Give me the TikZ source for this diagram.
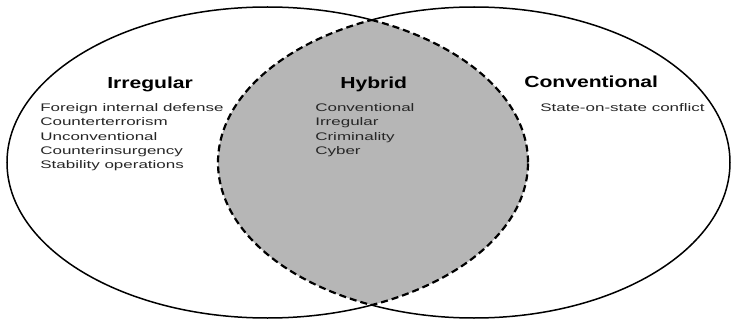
\documentclass[tikz,border=0pt]{standalone}
\usepackage{fontspec}
\setmainfont{Liberation Sans}
\definecolor{hybridgray}{RGB}{182,182,182}
\tikzset{
  head/.style={font=\fontsize{16}{19}\selectfont\bfseries, xscale=1.32, anchor=base west, inner sep=0pt},
  item/.style={font=\fontsize{11}{14}\selectfont, xscale=1.545, anchor=base west, inner sep=0pt, text=black!85},
  outline/.style={line width=1.5pt},
  hybridline/.style={line width=2.2pt, dash pattern=on 7pt off 4pt},
}
\begin{document}
\begin{tikzpicture}[x=1pt,y=-1pt]
\useasboundingbox (0,0) rectangle (732,321);
% intersection fill
\begin{scope}
  \clip (267.5,162.5) ellipse [x radius=260.5pt, y radius=155.5pt];
  \fill[hybridgray] (474,162.5) ellipse [x radius=256pt, y radius=155.5pt];
\end{scope}
% dashed boundary of the hybrid region
\begin{scope}
  \clip (474,162.5) ellipse [x radius=256pt, y radius=155.5pt];
  \draw[hybridline] (267.5,162.5) ellipse [x radius=260.5pt, y radius=155.5pt];
\end{scope}
\begin{scope}
  \clip (267.5,162.5) ellipse [x radius=260.5pt, y radius=155.5pt];
  \draw[hybridline] (474,162.5) ellipse [x radius=256pt, y radius=155.5pt];
\end{scope}
% solid outer arcs
\begin{scope}[even odd rule]
  \clip (-20,-20) rectangle (760,350) (474,162.5) ellipse [x radius=256pt, y radius=155.5pt];
  \draw[outline] (267.5,162.5) ellipse [x radius=260.5pt, y radius=155.5pt];
\end{scope}
\begin{scope}[even odd rule]
  \clip (-20,-20) rectangle (760,350) (267.5,162.5) ellipse [x radius=260.5pt, y radius=155.5pt];
  \draw[outline] (474,162.5) ellipse [x radius=256pt, y radius=155.5pt];
\end{scope}
% texts
\node[head] (irrh) at (107,89) {Irregular};
\foreach \t [count=\i] in {Foreign internal defense, Counterterrorism, Unconventional, Counterinsurgency, Stability operations}
  \node[item] (irr\i) at (40,{98+14*\i}) {\t};
\node[head] (hybh) at (340,89) {Hybrid};
\foreach \t [count=\i] in {Conventional, Irregular, Criminality, Cyber}
  \node[item] (hyb\i) at (315,{98+14*\i}) {\t};
\node[head] (convh) at (524,88) {Conventional};
\node[item] (conv1) at (540,112) {State-on-state conflict};
\end{tikzpicture}
\end{document}
